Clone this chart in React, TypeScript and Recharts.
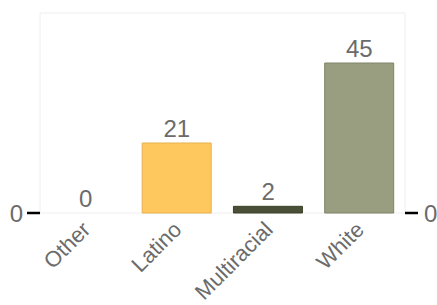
import { ComposedChart, Bar, Line, XAxis, YAxis, CartesianGrid, LabelList, Cell } from "recharts";

const categories = ["Other", "Latino", "Multiracial", "White"];
const counts = [0, 21, 2, 45];
const barColors = ["#cccccc", "#FFC85E", "#4A5037", "#999E80"];
const barStrokes = ["#bbbbbb", "#E6B04E", "#3A402A", "#7E8468"];

const data = categories.map((name, i) => ({ name, count: counts[i] }));

const TEXT = "#6b6b6b";

// rotated category labels, text end sits just right of the band centre
const XTick = (props: any) => {
  const { x, y, payload } = props;
  return (
    <g transform={`translate(${x + 6},${y + 10})`}>
      <text textAnchor="end" transform="rotate(-45)" fill={TEXT} fontSize={22}>
        {payload.value}
      </text>
    </g>
  );
};

export default function App() {
  return (
    <div style={{ position: "absolute", left: 0, top: 0, fontFamily: "Arial, 'Liberation Sans', sans-serif" }}>
      <ComposedChart
        width={437}
        height={305}
        data={data}
        margin={{ top: 13, right: 0, bottom: 0, left: 0 }}
        barCategoryGap="12%"
      >
        <CartesianGrid
          stroke="#eeeeee"
          horizontalPoints={[13, 213]}
          verticalPoints={[40, 405]}
        />
        <XAxis
          dataKey="name"
          height={92}
          interval={0}
          axisLine={false}
          tickLine={false}
          tick={<XTick />}
        />
        <YAxis
          yAxisId="left"
          width={40}
          domain={[0, 60]}
          ticks={[0]}
          axisLine={false}
          tickSize={13}
          tickMargin={4}
          tickLine={{ stroke: "#000", strokeWidth: 2.5 }}
          tick={{ fill: TEXT, fontSize: 24 }}
        />
        <YAxis
          yAxisId="right"
          orientation="right"
          width={32}
          domain={[0, 60]}
          ticks={[0]}
          axisLine={false}
          tickSize={13}
          tickMargin={6}
          tickLine={{ stroke: "#000", strokeWidth: 2.5 }}
          tick={{ fill: TEXT, fontSize: 24 }}
        />
        <Bar yAxisId="left" dataKey="count" isAnimationActive={false}>
          {data.map((_, i) => (
            <Cell key={i} fill={barColors[i]} stroke={barStrokes[i]} strokeWidth={1} />
          ))}
        </Bar>
        {/* invisible line carries the value labels, so the 0 label shows too */}
        <Line
          yAxisId="right"
          dataKey="count"
          stroke="none"
          dot={false}
          activeDot={false}
          isAnimationActive={false}
        >
          <LabelList dataKey="count" position="top" offset={6} fill={TEXT} fontSize={24} />
        </Line>
      </ComposedChart>
    </div>
  );
}
